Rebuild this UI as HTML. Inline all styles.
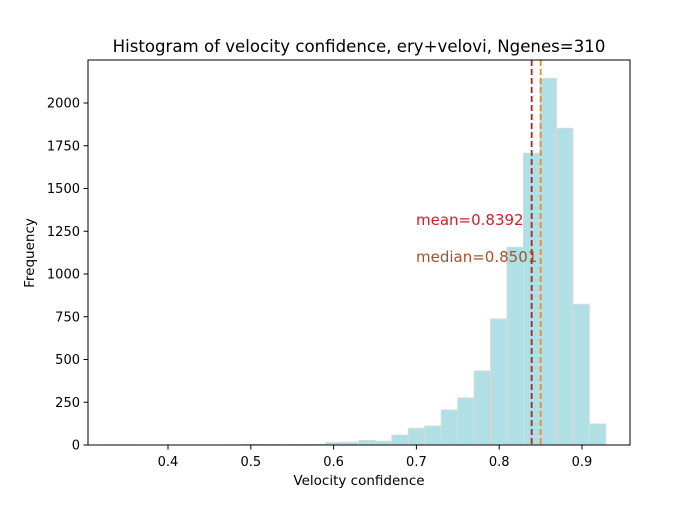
<!DOCTYPE html>
<html><head><meta charset="utf-8"><style>
body{margin:0;background:#fff}
svg{font-family:"DejaVu Sans","Liberation Sans",sans-serif}
</style></head><body>
<svg id="chart" width="700" height="500">
<text x="359" y="52" font-size="16.6" text-anchor="middle">Histogram of velocity confidence, ery+velovi, Ngenes=310</text>
<g id="bars"></g>
<g id="xticks"></g>
<g id="yticks"></g>
<g id="lines"></g>
<rect x="88" y="60" width="542" height="385" fill="none" stroke="#000" stroke-width="1"/>
<text x="359" y="485" font-size="13.5" text-anchor="middle">Velocity confidence</text>
<text x="34" y="253" font-size="13.5" text-anchor="middle" transform="rotate(-90 34 253)">Frequency</text>
</svg>
<script>
const binStart = 0.3326;
const binWidth = 0.01987;
const counts = [1,0,0,0,0,0,0,1,4,3,2,3,4,15,16,27,22,58,98,111,205,275,433,737,1156,1706,2144,1852,823,123];
const xTicks = [0.4,0.5,0.6,0.7,0.8,0.9];
const yTicks = [0,250,500,750,1000,1250,1500,1750,2000];
const meanVal = 0.8392;
const medianVal = 0.8501;
const NS="http://www.w3.org/2000/svg";
const X = v => 85.2 + (v - 0.3) * 828;
const Y = v => 445 - v * 0.171;
function mk(tag, attrs, parent){const e=document.createElementNS(NS,tag);for(const k in attrs)e.setAttribute(k,attrs[k]);parent.appendChild(e);return e;}
const bars=document.getElementById('bars');
counts.forEach((c,i)=>{
  const x0=X(binStart+i*binWidth), x1=X(binStart+(i+1)*binWidth);
  const r=mk('rect',{x:x0,y:Y(c),width:x1-x0,height:445-Y(c),fill:'#b0e0e6',stroke:'#d9d9d9','stroke-width':1},bars);
  
  
});
const xt=document.getElementById('xticks');
xTicks.forEach(t=>{
  mk('line',{x1:X(t),x2:X(t),y1:445,y2:449.5,stroke:'#000'},xt);
  const tx=mk('text',{x:X(t),y:466,'font-size':13,'text-anchor':'middle'},xt);
  tx.textContent=t.toFixed(1);
  
  
});
const yt=document.getElementById('yticks');
yTicks.forEach(t=>{
  mk('line',{x1:83.5,x2:88,y1:Y(t),y2:Y(t),stroke:'#000'},yt);
  const tx=mk('text',{x:80,y:Y(t)+4.5,'font-size':13,'text-anchor':'end'},yt);
  tx.textContent=t;
  
  
});
const lg=document.getElementById('lines');
const ml=mk('line',{x1:X(meanVal),x2:X(meanVal),y1:60,y2:445,stroke:'#b22222','stroke-width':1.8,'stroke-dasharray':'6,3'},lg);


const dl=mk('line',{x1:X(medianVal),x2:X(medianVal),y1:60,y2:445,stroke:'#e08a3c','stroke-width':1.8,'stroke-dasharray':'6,3'},lg);


const mt=mk('text',{x:416,y:225,'font-size':15,fill:'#cc2229'},lg);
mt.textContent='mean='+meanVal.toFixed(4);


const dt=mk('text',{x:416,y:262,'font-size':15,fill:'#a0522d'},lg);
dt.textContent='median='+medianVal.toFixed(4);


</script>
</body></html>
